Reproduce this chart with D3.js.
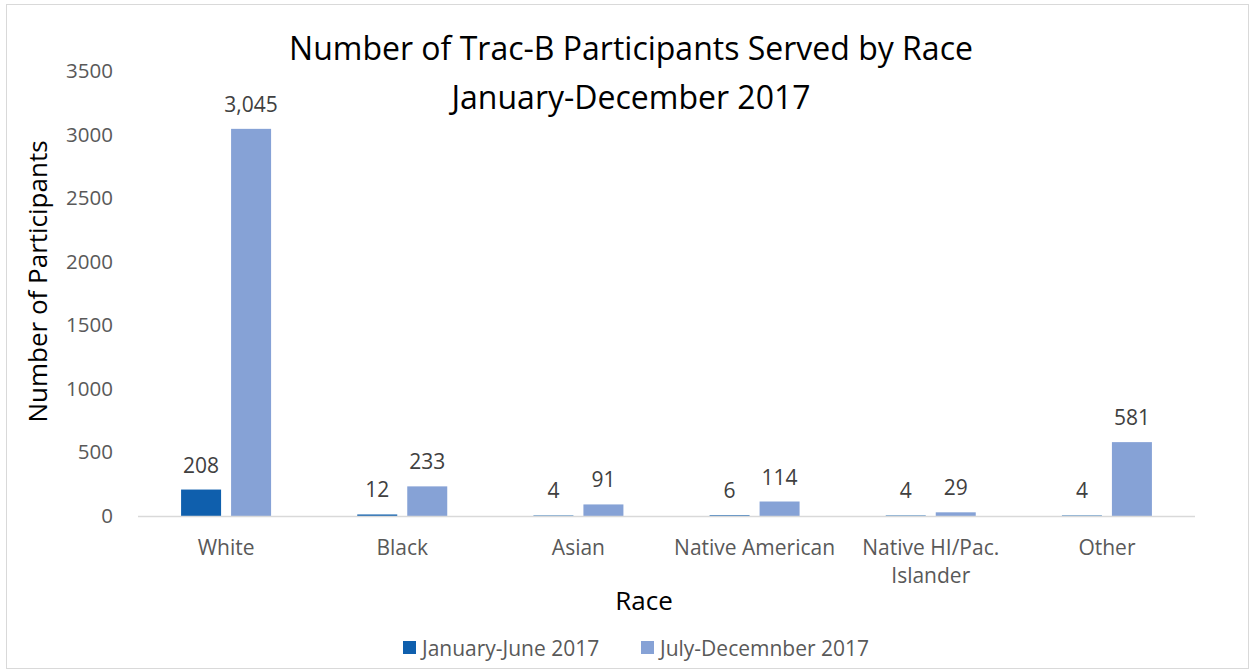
<!DOCTYPE html>
<html>
<head>
<meta charset="utf-8">
<script src="https://cdn.jsdelivr.net/npm/d3@7"></script>
<style>
  html, body { margin: 0; padding: 0; background: #fff; }
  svg { display: block; font-family: "Open Sans", "Noto Sans", sans-serif; }
</style>
</head>
<body>
<svg id="chart" width="1253" height="671"></svg>
<script>
// Participants served by race, two reporting periods of 2017
const categories = ["White", "Black", "Asian", "Native American", "Native HI/Pac. Islander", "Other"];
const firstHalf = [208, 12, 4, 6, 4, 4];
const secondHalf = [3045, 233, 91, 114, 29, 581];
const seriesNames = ["January-June 2017", "July-Decemnber 2017"];
const yTicks = [0, 500, 1000, 1500, 2000, 2500, 3000, 3500];

const colors = ["#0f5fad", "#86a2d6"];
const svg = d3.select("#chart");
const W = 1253, H = 671;

// chart frame
svg.append("rect")
  .attr("x", 6.5).attr("y", 4.5).attr("width", W - 11).attr("height", H - 7)
  .attr("fill", "#fff").attr("stroke", "#d9d9d9").attr("stroke-width", 1);

const plot = { left: 138, right: 1195, top: 71, bottom: 516 };

const x = d3.scaleBand().domain(categories).range([plot.left, plot.right]).paddingInner(0).paddingOuter(0);
const y = d3.scaleLinear().domain([0, 3500]).range([plot.bottom, plot.top]);

const rows = categories.map((c, i) => ({ cat: c, values: [firstHalf[i], secondHalf[i]] }));
const barW = 40, gap = 10;
const sub = d3.scaleOrdinal().domain([0, 1]).range([-(barW + gap) / 2, (barW + gap) / 2]);

// y axis tick labels (no axis line)
const yAxis = svg.append("g")
  .attr("transform", `translate(${plot.left - 25},0)`)
  .call(d3.axisLeft(y).tickValues(yTicks).tickSize(0).tickPadding(0).tickFormat(d3.format("d")));
yAxis.select(".domain").remove();
yAxis.selectAll("text")
  .attr("font-family", "'Open Sans', sans-serif")
  .attr("font-size", 20.5).attr("fill", "#595959");

// bars
const groups = svg.append("g").selectAll("g").data(rows).join("g")
  .attr("transform", d => `translate(${x(d.cat) + x.bandwidth() / 2},0)`);

groups.selectAll("rect").data(d => d.values.map((v, k) => ({ v, k }))).join("rect")
  .attr("x", d => sub(d.k) - barW / 2)
  .attr("y", d => y(d.v))
  .attr("width", barW)
  .attr("height", d => y(0) - y(d.v))
  .attr("fill", d => colors[d.k]);

// value labels
groups.selectAll("text.val").data(d => d.values.map((v, k) => ({ v, k }))).join("text")
  .attr("class", "val")
  .attr("x", d => sub(d.k))
  .attr("y", d => y(d.v) - 17)
  .attr("text-anchor", "middle")
  .attr("font-size", 21).attr("fill", "#404040")
  .text(d => d3.format(",")(d.v));

// baseline
svg.append("line")
  .attr("x1", plot.left).attr("x2", plot.right)
  .attr("y1", y(0) + 0.5).attr("y2", y(0) + 0.5)
  .attr("stroke", "#d9d9d9").attr("stroke-width", 1.5);

// x axis category labels
const xAxis = svg.append("g")
  .attr("transform", `translate(0,${plot.bottom})`)
  .call(d3.axisBottom(x).tickSize(0).tickPadding(0));
xAxis.select(".domain").remove();
xAxis.selectAll(".tick text").each(function(d) {
  const t = d3.select(this).text(null)
    .attr("font-family", "'Open Sans', sans-serif")
    .attr("font-size", 21).attr("fill", "#595959").attr("y", 39).attr("dy", 0);
  const lines = d === "Native HI/Pac. Islander" ? ["Native HI/Pac.", "Islander"] : [d];
  lines.forEach((ln, i) => t.append("tspan").attr("x", 0).attr("y", 39 + i * 28).text(ln));
});

// titles
svg.append("text").attr("x", 631).attr("y", 60).attr("text-anchor", "middle")
  .attr("font-size", 32).attr("fill", "#000")
  .text("Number of Trac-B Participants Served by Race");
svg.append("text").attr("x", 631).attr("y", 109).attr("text-anchor", "middle")
  .attr("font-size", 32).attr("fill", "#000")
  .text("January-December 2017");

svg.append("text")
  .attr("transform", `translate(47,${(plot.top + plot.bottom) / 2 - 12}) rotate(-90)`)
  .attr("text-anchor", "middle").attr("font-size", 26).attr("fill", "#000")
  .text("Number of Participants");

svg.append("text").attr("x", 644).attr("y", 610).attr("text-anchor", "middle")
  .attr("font-size", 26).attr("fill", "#000").text("Race");

// legend
const legend = svg.append("g").attr("transform", "translate(403,648)");
const legendItems = legend.selectAll("g").data(seriesNames).join("g")
  .attr("transform", (d, i) => `translate(${i * 238},0)`);
legendItems.append("rect").attr("x", 0).attr("y", -7).attr("width", 13).attr("height", 13)
  .attr("fill", (d, i) => colors[i]);
legendItems.append("text").attr("x", 19).attr("y", 7.5)
  .attr("font-size", 21).attr("fill", "#595959").text(d => d);
</script>
</body>
</html>
